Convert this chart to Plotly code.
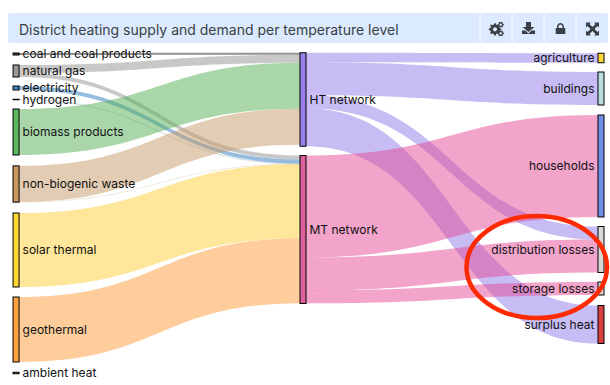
import math
import plotly.graph_objects as go

W, H = 610, 385

# ---- data ----
node_labels = ["coal and coal products", "natural gas", "electricity", "hydrogen",
               "biomass products", "non-biogenic waste", "solar thermal", "geothermal",
               "ambient heat", "HT network", "MT network", "agriculture", "buildings",
               "households", "distribution losses", "storage losses", "surplus heat"]
link_source = [0, 1, 1, 2, 3, 4, 5, 5, 6, 7, 8, 9, 9, 9, 9, 10, 10, 10]
link_target = [9, 9, 10, 10, 10, 9, 9, 10, 10, 10, 9, 11, 12, 14, 16, 13, 14, 15]
link_value = [2, 8, 4, 4, 0.5, 46, 36, 0.3, 74, 65, 1.5, 9.5, 33, 13, 38, 102, 33, 13]

# ---- style ----
node_fill = ["#444444", "#999999", "#3f86c4", "#6a8a99", "#5cb85c", "#c9985f", "#fdd835",
             "#ffa23f", "#6b7f2a", "#9a80ea", "#e0609f", "#fdd835", "#b9dee0", "#6f8fe6",
             "#d8d8d8", "#d8d8d8", "#d84040"]
node_edge = ["#111111", "#555555", "#1f5a88", "#3a5a66", "#2f7a2f", "#7d5a2e", "#857016",
             "#8a5210", "#4a5a1a", "#3b2f80", "#7e1f55", "#806c10", "#5a7c7e", "#1f3a88",
             "#777777", "#777777", "#801818"]
GREY, PURPLE, PINK = "rgba(145,145,145,0.5)", "rgba(143,121,234,0.5)", "rgba(229,74,150,0.5)"
link_color = ["rgba(100,100,100,0.7)", GREY, GREY, "rgba(63,134,196,0.55)", "rgba(90,130,150,0.12)",
              "rgba(85,176,85,0.5)", "rgba(197,153,103,0.5)", "rgba(197,153,103,0.1)",
              "rgba(253,207,53,0.5)", "rgba(253,155,55,0.5)", "rgba(0,0,0,0)",
              PURPLE, PURPLE, PURPLE, PURPLE, PINK, PINK, PINK]

# node layout, pixels in the page
col = [13] * 9 + [300] * 2 + [598] * 6
top = [53, 65, 86, 99, 109, 165, 213, 297, 372, 53, 156, 53, 72, 115, 226, 282, 305]
bottom = [55, 77, 90, 100, 155, 203, 287, 362, 374, 146, 303, 63, 105, 217, 273, 295, 344]
SX0, SX1, SY0, SY1, TH = 16, 601, 53, 375, 6
sw, sh = SX1 - SX0, SY1 - SY0
# plotly ignores a node position of exactly 0, hence the floor
node_x = [max((c - col[0]) / sw, 0.0001) for c in col]
node_y = [((t + b) / 2 - SY0) / sh for t, b in zip(top, bottom)]

FONT = "Inter, 'Open Sans', sans-serif"
fig = go.Figure(go.Sankey(
    arrangement="fixed",
    domain=dict(x=[SX0 / W, SX1 / W], y=[1 - SY1 / H, 1 - SY0 / H]),
    node=dict(label=node_labels, x=node_x, y=node_y, color=node_fill, pad=10.1, thickness=TH,
              line=dict(color=node_edge, width=1)),
    link=dict(source=link_source, target=link_target, value=link_value, color=link_color),
    textfont=dict(family=FONT, size=12, color="#111111", shadow="none"),
))

HDR = "#dbeafe"
INK = "#3a3f45"


def round_rect(x0, y0, x1, y1, r):
    return (f"M{x0 + r},{y0} L{x1 - r},{y0} Q{x1},{y0} {x1},{y0 + r} L{x1},{y1 - r} "
            f"Q{x1},{y1} {x1 - r},{y1} L{x0 + r},{y1} Q{x0},{y1} {x0},{y1 - r} "
            f"L{x0},{y0 + r} Q{x0},{y0} {x0 + r},{y0} Z")


shapes = [dict(type="path", xref="paper", yref="paper", xsizemode="pixel", ysizemode="pixel",
               xanchor=0, yanchor=1, path=round_rect(8, -43, 608, -13, 3),
               fillcolor=HDR, line=dict(width=0), layer="below")]
for sx in [480, 512, 544, 576]:
    shapes.append(dict(type="line", xref="paper", yref="paper", x0=sx / W, x1=sx / W, y0=1 - 43 / H, y1=1 - 13 / H,
                       line=dict(color="white", width=1)))


def icon(cx, cy, path, color=INK):
    return dict(type="path", xref="paper", yref="paper", xsizemode="pixel", ysizemode="pixel",
                xanchor=cx / W, yanchor=1 - cy / H, path=path, fillcolor=color,
                line=dict(color=color, width=0))


def poly(pts):
    return "M" + " L".join(f"{x:.2f},{y:.2f}" for x, y in pts) + " Z "


def circle(r, n=20):
    return poly([(r * math.cos(2 * math.pi * i / n), r * math.sin(2 * math.pi * i / n)) for i in range(n)])


def gear(r, teeth):
    pts = []
    for i in range(teeth * 4):
        a = 2 * math.pi * (i - 0.5) / (teeth * 4)
        rr = r if i % 4 in (0, 1) else r * 0.76
        pts.append((rr * math.cos(a), rr * math.sin(a)))
    return poly(pts)


def shackle(ro, ri, y0, y1, n=12):
    outer = [(-ro, y0)] + [(-ro * math.cos(math.pi * i / n), y1 + ro * math.sin(math.pi * i / n)) for i in range(n + 1)] + [(ro, y0)]
    inner = [(ri, y0)] + [(ri * math.cos(math.pi * i / n), y1 + ri * math.sin(math.pi * i / n)) for i in range(n + 1)] + [(-ri, y0)]
    return poly(outer + inner)


# pixel-sized shape paths have y pointing up
shapes += [
    icon(495, 29.3, gear(6.2, 8)),
    icon(495, 29.3, circle(2.0), HDR),
    icon(500.7, 24.7, gear(3.2, 6)),
    icon(500.7, 24.7, circle(1.2), HDR),
    icon(500.7, 33.3, gear(3.2, 6)),
    icon(500.7, 33.3, circle(1.2), HDR),
    icon(528.5, 28, "M-2.5,6 L2.5,6 L2.5,1 L6,1 L0,-4 L-6,1 L-2.5,1 Z M-6.5,-2.5 L-3,-2.5 L0,-5.5 L3,-2.5 L6.5,-2.5 L6.5,-6 L-6.5,-6 Z"),
    icon(560.5, 28.5, "M-4.8,0.5 L4.8,0.5 L4.8,-5.5 L-4.8,-5.5 Z " + shackle(3.4, 1.9, 0.5, 2.0)),
    icon(592.5, 29, "M-6.5,6.5 L-1.5,6.5 L-3,5 L0,2 L3,5 L1.5,6.5 L6.5,6.5 L6.5,1.5 L5,3 L2,0 L5,-3 L6.5,-1.5 L6.5,-6.5 L1.5,-6.5 L3,-5 L0,-2 L-3,-5 L-1.5,-6.5 L-6.5,-6.5 L-6.5,-1.5 L-5,-3 L-2,0 L-5,3 L-6.5,1.5 Z"),
    dict(type="circle", xref="paper", yref="paper", x0=466.5 / W, x1=607 / W, y0=1 - 318 / H, y1=1 - 216 / H,
         line=dict(color="#ff2a00", width=4.5), fillcolor="rgba(0,0,0,0)"),
]

fig.update_layout(
    width=W, height=H, margin=dict(l=0, r=0, t=0, b=0), paper_bgcolor="white",
    shapes=shapes, showlegend=False,
    annotations=[dict(text="District heating supply and demand per temperature level", xref="paper", yref="paper",
                      x=17 / W, y=1 - 29 / H, xanchor="left", yanchor="middle", showarrow=False,
                      font=dict(family=FONT, size=14, color=INK))],
)
fig.write_html("out.html", config=dict(displayModeBar=False),
               post_script="document.body.style.margin='0';document.documentElement.style.overflow='hidden';")
